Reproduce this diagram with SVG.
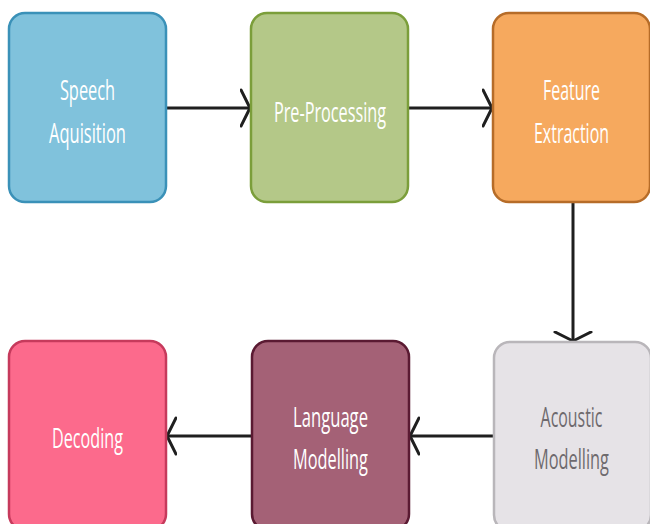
<svg xmlns="http://www.w3.org/2000/svg" width="650" height="524" viewBox="0 0 650 524">
  <defs>
    <marker id="chevron" viewBox="0 0 12 40" refX="10" refY="20" markerWidth="12" markerHeight="40" markerUnits="userSpaceOnUse" orient="auto">
      <path d="M1,2 L10,20 L1,38" fill="none" stroke="#1f1f1f" stroke-width="3" stroke-linecap="round" stroke-linejoin="round"/>
    </marker>
    <style>
      .box { stroke-width: 2.5; }
      .label { font-family: "Open Sans", "Noto Sans", sans-serif; font-size: 28px; fill: #ffffff; text-anchor: middle; }
      .dark { fill: #6e6a6e; }
      .edge { fill: none; stroke: #1f1f1f; stroke-width: 3; marker-end: url(#chevron); }
    </style>
  </defs>

  <rect width="650" height="524" fill="#ffffff"/>

  <!-- connectors -->
  <g id="connectors">
    <line class="edge" x1="166" y1="108" x2="250" y2="108"/>
    <line class="edge" x1="408" y1="108" x2="492" y2="108"/>
    <line class="edge" x1="573" y1="203" x2="573" y2="341"/>
    <line class="edge" x1="494" y1="436" x2="410" y2="436"/>
    <line class="edge" x1="251" y1="436" x2="167" y2="436"/>
  </g>

  <!-- labels use a narrow face: each is squeezed horizontally to 0.6 about its centre -->

  <!-- top row -->
  <g id="speech-aquisition">
    <rect class="box" x="9" y="13" width="157" height="189" rx="16" fill="#80c2dc" stroke="#3a91b8"/>
    <g transform="translate(87.5,0) scale(0.6,1)">
      <text class="label" x="0" y="100" textLength="92" lengthAdjust="spacingAndGlyphs">Speech</text>
      <text class="label" x="0" y="143" textLength="128" lengthAdjust="spacingAndGlyphs">Aquisition</text>
    </g>
  </g>

  <g id="pre-processing">
    <rect class="box" x="251" y="13" width="157" height="189" rx="16" fill="#b4c888" stroke="#7b9e3a"/>
    <g transform="translate(330,0) scale(0.6,1)">
      <text class="label" x="0" y="122" textLength="187" lengthAdjust="spacingAndGlyphs">Pre-Processing</text>
    </g>
  </g>

  <g id="feature-extraction">
    <rect class="box" x="493" y="13" width="157" height="189" rx="16" fill="#f6a95e" stroke="#b66c28"/>
    <g transform="translate(571.5,0) scale(0.6,1)">
      <text class="label" x="0" y="100" textLength="95" lengthAdjust="spacingAndGlyphs">Feature</text>
      <text class="label" x="0" y="143" textLength="125" lengthAdjust="spacingAndGlyphs">Extraction</text>
    </g>
  </g>

  <!-- bottom row -->
  <g id="acoustic-modelling">
    <rect class="box" x="494" y="342" width="157" height="189" rx="16" fill="#e6e3e7" stroke="#b9b6ba"/>
    <g transform="translate(571.5,0) scale(0.6,1)">
      <text class="label dark" x="0" y="427" textLength="103" lengthAdjust="spacingAndGlyphs">Acoustic</text>
      <text class="label dark" x="0" y="469" textLength="125" lengthAdjust="spacingAndGlyphs">Modelling</text>
    </g>
  </g>

  <g id="language-modelling">
    <rect class="box" x="252" y="341" width="157" height="189" rx="16" fill="#a46176" stroke="#5a1a32"/>
    <g transform="translate(330.5,0) scale(0.6,1)">
      <text class="label" x="0" y="427" textLength="125" lengthAdjust="spacingAndGlyphs">Language</text>
      <text class="label" x="0" y="469" textLength="125" lengthAdjust="spacingAndGlyphs">Modelling</text>
    </g>
  </g>

  <g id="decoding">
    <rect class="box" x="9" y="341" width="157" height="189" rx="16" fill="#fc6a8c" stroke="#c63a5c"/>
    <g transform="translate(87.5,0) scale(0.6,1)">
      <text class="label" x="0" y="448" textLength="118" lengthAdjust="spacingAndGlyphs">Decoding</text>
    </g>
  </g>
</svg>
